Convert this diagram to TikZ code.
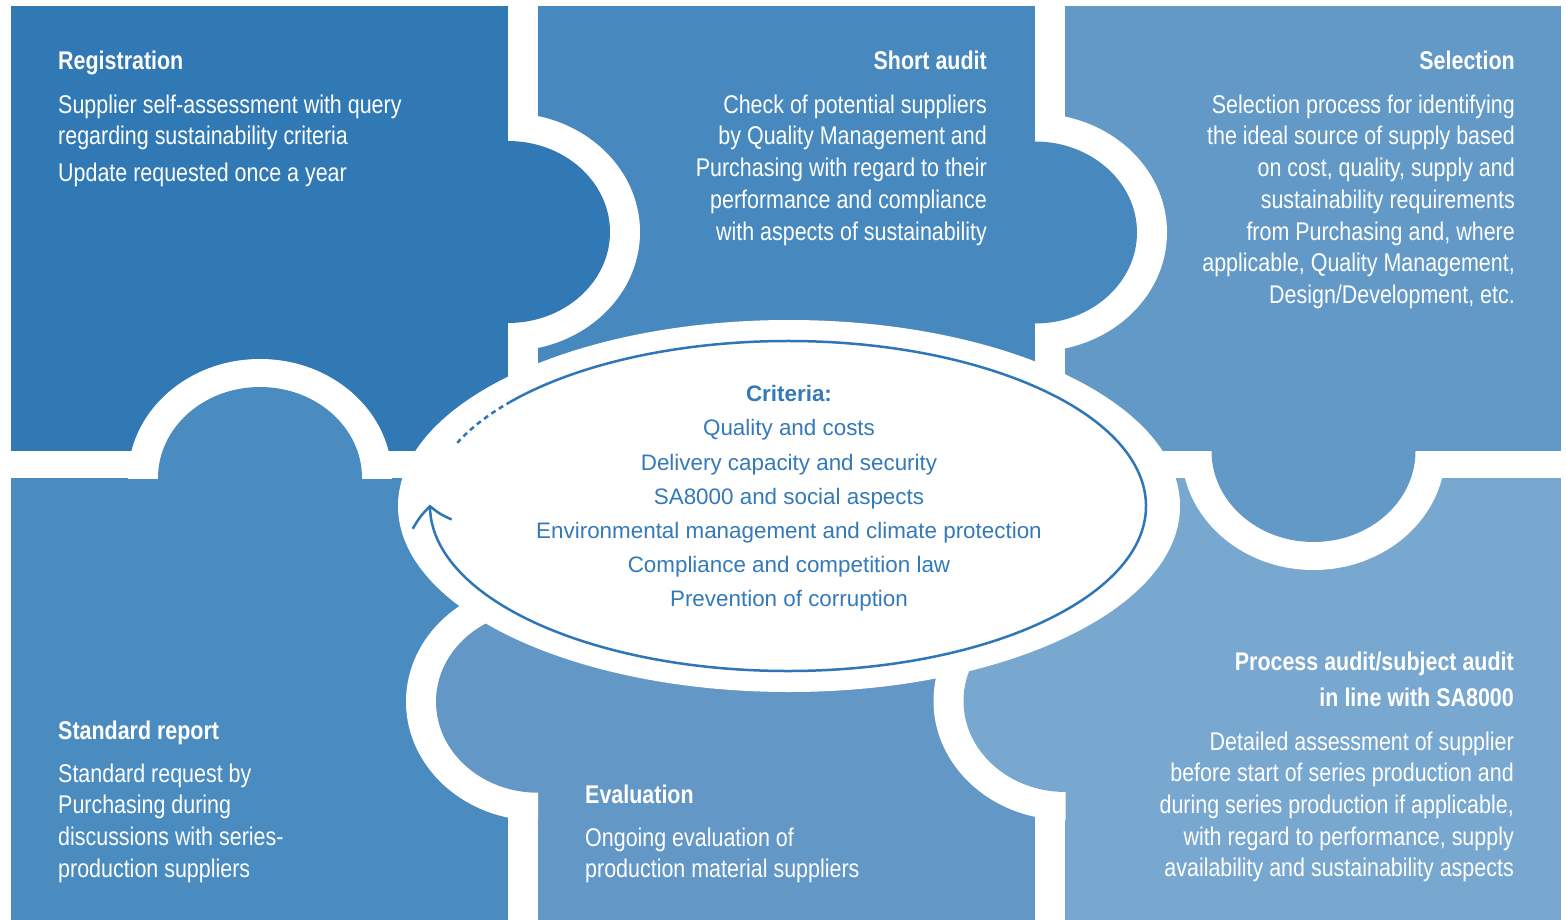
\documentclass[tikz,border=0pt]{standalone}
\usepackage{fontspec}
\setmainfont{Liberation Sans}
\newfontfamily\condf[FakeStretch=0.838]{Liberation Sans}
\usetikzlibrary{arrows.meta,bending}
\definecolor{cReg}{HTML}{3179B5}
\definecolor{cShort}{HTML}{4789BE}
\definecolor{cStd}{HTML}{4A8CC0}
\definecolor{cSel}{HTML}{6399C7}
\definecolor{cEval}{HTML}{6398C6}
\definecolor{cProc}{HTML}{78A8CF}
\definecolor{cLine}{HTML}{2F76B8}
\definecolor{cText}{HTML}{3479B9}
\begin{document}
\begin{tikzpicture}[x=1pt,y=-1pt,
  tiletext/.style={inner sep=0pt, text=white, font=\condf\fontsize{25.6}{31.7}\selectfont},
  crit/.style={inner sep=0pt, text=cText, font=\fontsize{22.4}{34.2}\selectfont},
  ring/.style={fill=white},
  cycleline/.style={draw=cLine, line width=2.5pt},
]
\fill[white] (0,0) rectangle (1566,920);
\useasboundingbox (0,0) rectangle (1566,920);

% tiles
\fill[cReg]   (11,6)    rectangle (508,451);
\fill[cShort] (538,6)   rectangle (1035,451);
\fill[cSel]   (1065,6)  rectangle (1561,451);
\fill[cStd]   (11,478)  rectangle (508,920);
\fill[cEval]  (538,478) rectangle (1035,920);
\fill[cProc]  (1065,478) rectangle (1561,920);

% tab: Registration -> Short audit
\begin{scope}\clip (508,0) rectangle (1566,920);
  \fill[ring] (508,232) ellipse [x radius=132, y radius=119];\end{scope}
\fill[cReg] (508,232) ellipse [x radius=102, y radius=91];
% tab: Short audit -> Selection
\begin{scope}\clip (1035,0) rectangle (1566,920);
  \fill[ring] (1035,232.5) ellipse [x radius=132, y radius=119];\end{scope}
\fill[cShort] (1035,232.5) ellipse [x radius=102, y radius=91];
% tab: Selection -> Process audit
\begin{scope}\clip (0,451) rectangle (1566,920);
  \fill[ring] (1313.5,451) ellipse [x radius=132, y radius=119];\end{scope}
\fill[cSel] (1313.5,451) ellipse [x radius=102, y radius=91];
% tab: Process audit -> Evaluation
\begin{scope}\clip (0,0) rectangle (1065.5,920);
  \fill[ring] (1065.5,701) ellipse [x radius=132, y radius=119];\end{scope}
\fill[cProc] (1065.5,701) ellipse [x radius=102, y radius=91];
% tab: Evaluation -> Standard report
\begin{scope}\clip (0,0) rectangle (538,920);
  \fill[ring] (538,701.7) ellipse [x radius=132, y radius=119];\end{scope}
\fill[cEval] (538,701.7) ellipse [x radius=102, y radius=91];
% tab: Standard report -> Registration
\begin{scope}\clip (0,0) rectangle (1566,478);
  \fill[ring] (260,478) ellipse [x radius=132, y radius=119];\end{scope}
\fill[cStd] (260,478) ellipse [x radius=102, y radius=91];

% central ellipse
\fill[white] (789,506) ellipse [x radius=391, y radius=186];
\draw[cycleline, -{Straight Barb[length=18pt,width=40pt,bend]}]
  (788,506) ++(-141:358 and 165) arc[start angle=-141, end angle=180.5, x radius=358, y radius=165];
\draw[cycleline, dash pattern=on 5pt off 4pt]
  (788,506) ++(-157.5:358 and 165) arc[start angle=-157.5, end angle=-141, x radius=358, y radius=165];

% texts
\node[tiletext, anchor=base west] (reg) at (58,70) {\begin{tabular}[t]{@{}l@{}}\textbf{Registration}\\[11.6pt]
Supplier self-assessment with query\\
regarding sustainability criteria\\[5.3pt]
Update requested once a year\end{tabular}};

\node[tiletext, anchor=base east] (short) at (987,70) {\begin{tabular}[t]{@{}r@{}}\textbf{Short audit}\\[11.6pt]
Check of potential suppliers\\
by Quality Management and\\
Purchasing with regard to their\\
performance and compliance\\
with aspects of sustainability\end{tabular}};

\node[tiletext, anchor=base east] (sel) at (1515,70) {\begin{tabular}[t]{@{}r@{}}\textbf{Selection}\\[11.6pt]
Selection process for identifying\\
the ideal source of supply based\\
on cost, quality, supply and\\
sustainability requirements\\
from Purchasing and, where\\
applicable, Quality Management,\\
Design/Development, etc.\end{tabular}};

\node[tiletext, anchor=base west] (std) at (58,739) {\begin{tabular}[t]{@{}l@{}}\textbf{Standard report}\\[11.3pt]
Standard request by\\
Purchasing during\\
discussions with series-\\
production suppliers\end{tabular}};

\node[tiletext, anchor=base west] (eval) at (585,803) {\begin{tabular}[t]{@{}l@{}}\textbf{Evaluation}\\[11.3pt]
Ongoing evaluation of\\
production material suppliers\end{tabular}};

\node[tiletext, anchor=base east] (proc) at (1514,670) {\begin{tabular}[t]{@{}r@{}}\textbf{Process audit/subject audit}\\[5pt]
\textbf{in line with SA8000}\\[11.6pt]
Detailed assessment of supplier\\
before start of series production and\\
during series production if applicable,\\
with regard to performance, supply\\
availability and sustainability aspects\end{tabular}};

\node[crit, anchor=base] (crit) at (789,401.7) {\begin{tabular}[t]{@{}c@{}}\textbf{Criteria:}\\
Quality and costs\\
Delivery capacity and security\\
SA8000 and social aspects\\
Environmental management and climate protection\\
Compliance and competition law\\
Prevention of corruption\end{tabular}};
\end{tikzpicture}
\end{document}
